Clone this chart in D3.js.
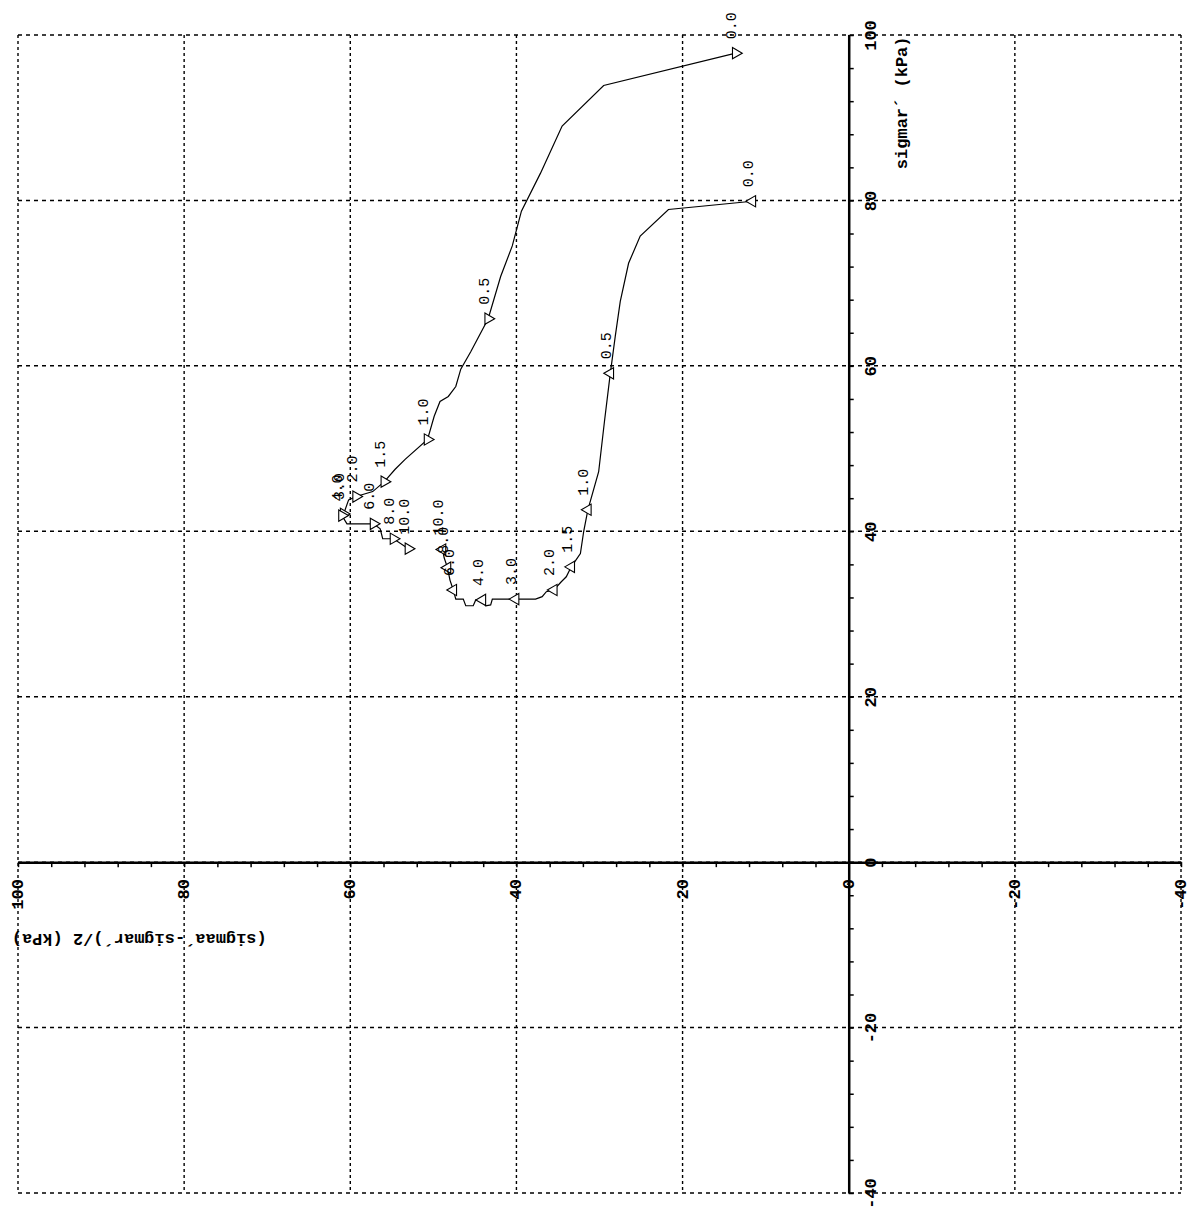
<!DOCTYPE html>
<html lang="en">
<head>
    <title>Stress paths</title>
    <style>
        body { margin: 0; background: #fff; }
        .tick text { font-family: "Liberation Mono", monospace; font-weight: bold; font-size: 17px; fill: #000; }
        .ptlabel { font-family: "Liberation Mono", monospace; font-size: 15px; fill: #000; }
        .title { font-family: "Liberation Mono", monospace; font-weight: bold; font-size: 17px; fill: #000; }
    </style>
    <script src="https://d3js.org/d3.v7.min.js"></script>
</head>
<body>
<script>
    // path A (outer curve, right-pointing markers) : q = (sigmaa'-sigmar')/2 , s = sigmar'
    const pathAq = [13.6, 29.5, 34.5, 37.1, 39.4, 40.5, 41.9, 43.4, 45.5, 46.7, 47.3, 48.2, 49.2, 49.9, 50.7,
                    53.4, 54.6, 55.9, 57.3, 59.3, 60.2, 60.8, 61.0, 60.4, 57.2, 56.4, 56.1, 54.8, 53.0];
    const pathAs = [97.8, 93.9, 89.0, 83.3, 78.7, 74.5, 70.8, 65.7, 61.7, 59.6, 57.5, 56.3, 55.7, 53.9, 51.1,
                    48.7, 47.5, 46.0, 44.8, 44.2, 43.8, 42.1, 41.9, 40.9, 40.9, 40.3, 39.1, 39.1, 37.9];
    const markAq = [13.6, 43.4, 50.7, 55.9, 59.3, 60.8, 61.0, 57.2, 54.8, 53.0];
    const markAs = [97.8, 65.7, 51.1, 46.0, 44.2, 42.1, 41.9, 40.9, 39.1, 37.9];
    const markAlabels = ["0.0", "0.5", "1.0", "1.5", "2.0", "3.0", "4.0", "6.0", "8.0", "10.0"];

    // path B (inner curve, left-pointing markers)
    const pathBq = [11.6, 21.7, 25.1, 26.5, 27.5, 28.1, 28.7, 29.4, 30.1, 31.4, 31.9, 32.3, 33.4, 34.0, 34.6,
                    35.5, 36.4, 36.9, 37.7, 40.1, 42.9, 43.1, 43.7, 44.1, 44.9, 45.2, 46.1, 46.4, 47.3,
                    47.6, 48.0, 48.3, 48.7, 48.9];
    const pathBs = [79.9, 78.9, 75.7, 72.4, 67.8, 63.6, 59.1, 53.3, 47.2, 42.6, 40.0, 37.3, 35.7, 34.5, 33.9,
                    32.9, 32.7, 32.1, 31.8, 31.8, 31.8, 31.1, 31.0, 31.7, 31.7, 31.0, 31.0, 31.8, 31.8,
                    32.9, 34.1, 35.6, 36.8, 37.8];
    const markBq = [11.6, 28.7, 31.4, 33.4, 35.5, 40.1, 44.1, 47.6, 48.3, 48.9];
    const markBs = [79.9, 59.1, 42.6, 35.7, 32.9, 31.8, 31.7, 32.9, 35.6, 37.8];
    const markBlabels = ["0.0", "0.5", "1.0", "1.5", "2.0", "3.0", "4.0", "6.0", "8.0", "10.0"];

    const gridValues = [100, 80, 60, 40, 20, 0, -20, -40];

    const width = 1197, height = 1209;

    const svg = d3.select("body").append("svg")
        .attr("width", width)
        .attr("height", height);

    // the sheet is turned: q runs right-to-left, sigmar' runs bottom-to-top
    const x = d3.scaleLinear().domain([100, -40]).range([18, 1181]);
    const y = d3.scaleLinear().domain([100, -40]).range([35, 1193]);

    // dashed grid
    svg.append("g").selectAll("line")
        .data(gridValues)
        .enter().append("line")
        .attr("x1", x(100)).attr("x2", x(-40))
        .attr("y1", d => y(d)).attr("y2", d => y(d))
        .attr("stroke", "#000").attr("stroke-width", 1.5)
        .attr("stroke-dasharray", "4,4");

    svg.append("g").selectAll("line")
        .data(gridValues)
        .enter().append("line")
        .attr("y1", y(100)).attr("y2", y(-40))
        .attr("x1", d => x(d)).attr("x2", d => x(d))
        .attr("stroke", "#000").attr("stroke-width", 1.4)
        .attr("stroke-dasharray", "3,3");

    const minorTicks = d3.range(-40, 101, 4);
    const fmt = d => (d % 20 === 0 ? d : "");

    // sigmar' axis (vertical line at q = 0)
    const axS = svg.append("g")
        .attr("transform", `translate(${x(0)},0)`)
        .call(d3.axisRight(y).tickValues(minorTicks).tickFormat(fmt).tickSize(5).tickSizeOuter(0));
    axS.select(".domain").attr("stroke-width", 2.5);
    axS.selectAll(".tick line").attr("stroke-width", 1.5);
    axS.selectAll(".tick text")
        .attr("x", null).attr("dy", null)
        .attr("text-anchor", "middle")
        .attr("dominant-baseline", "central")
        .attr("transform", "translate(23,0) rotate(-90)");

    // q axis (horizontal line at sigmar' = 0)
    const axQ = svg.append("g")
        .attr("transform", `translate(0,${y(0)})`)
        .call(d3.axisBottom(x).tickValues(minorTicks).tickFormat(fmt).tickSize(5).tickSizeOuter(0));
    axQ.select(".domain").attr("stroke-width", 2.5);
    axQ.selectAll(".tick line").attr("stroke-width", 1.5);
    axQ.selectAll(".tick text")
        .attr("y", null).attr("dy", null)
        .attr("text-anchor", "end")
        .attr("dominant-baseline", "central")
        .attr("transform", "translate(0,17) rotate(-90)");

    // axis titles
    svg.append("text")
        .attr("class", "title")
        .attr("text-anchor", "middle")
        .attr("dominant-baseline", "central")
        .attr("transform", `translate(${x(0) + 54},${y(91.8)}) rotate(-90)`)
        .text("sigmar´ (kPa)");

    svg.append("text")
        .attr("class", "title")
        .attr("text-anchor", "middle")
        .attr("dominant-baseline", "central")
        .attr("transform", `translate(${x(85.4)},${y(0) + 76}) rotate(180)`)
        .text("(sigmaa´-sigmar´)/2 (kPa)");

    // stress paths
    const line = d3.line().x(d => x(d[0])).y(d => y(d[1]));

    function drawPath(qs, ss, mq, ms, labels, angle) {
        svg.append("path")
            .datum(d3.zip(qs, ss))
            .attr("fill", "none")
            .attr("stroke", "#000")
            .attr("stroke-width", 1.2)
            .attr("d", line);

        const marks = d3.zip(mq, ms, labels);
        svg.append("g").selectAll("path")
            .data(marks)
            .enter().append("path")
            .attr("d", d3.symbol(d3.symbolTriangle, 55))
            .attr("transform", d => `translate(${x(d[0])},${y(d[1])}) rotate(${angle})`)
            .attr("fill", "#fff")
            .attr("stroke", "#000")
            .attr("stroke-width", 1.1);

        svg.append("g").selectAll("text")
            .data(marks)
            .enter().append("text")
            .attr("class", "ptlabel")
            .attr("text-anchor", "start")
            .attr("dominant-baseline", "central")
            .attr("transform", d => `translate(${x(d[0]) - 3},${y(d[1]) - 14}) rotate(-90)`)
            .text(d => d[2]);
    }

    drawPath(pathAq, pathAs, markAq, markAs, markAlabels, 90);
    drawPath(pathBq, pathBs, markBq, markBs, markBlabels, -90);
</script>
</body>
</html>
